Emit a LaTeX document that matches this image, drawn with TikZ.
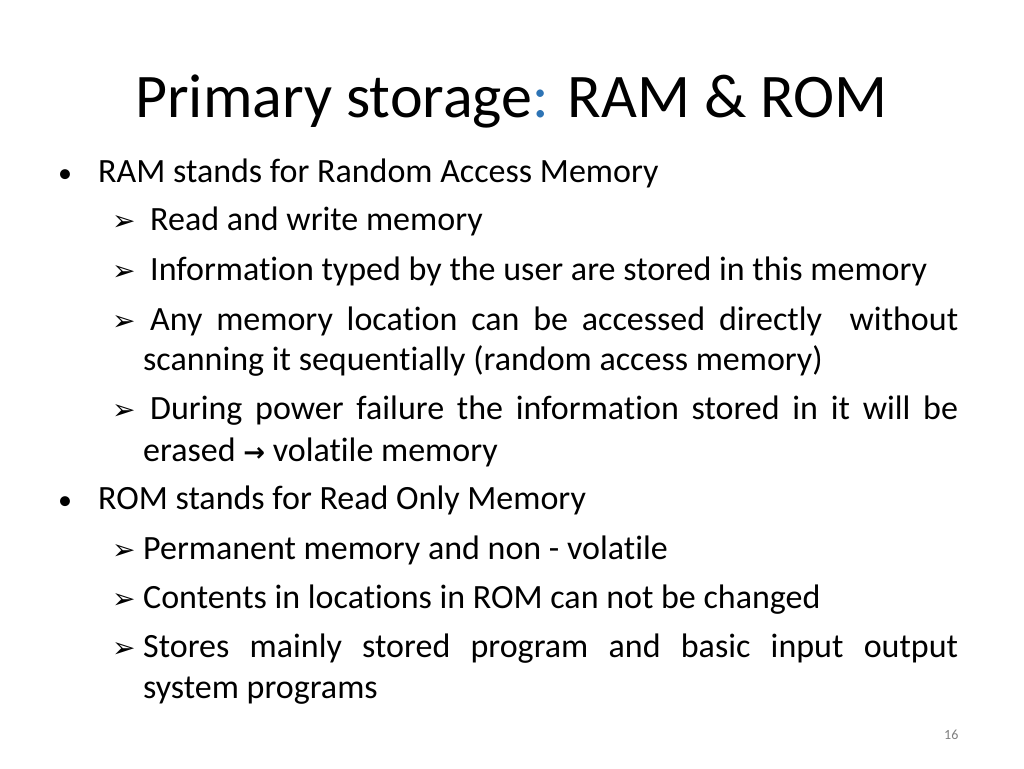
\documentclass[tikz,border=0pt]{standalone}
\usepackage{fontspec}
\setmainfont[RawFeature={-liga;-clig;-dlig}]{Carlito}
\newfontfamily\symfont{DejaVu Sans}
\begin{document}
\begin{tikzpicture}[x=1pt,y=-1pt,
  body/.style={anchor=base west,inner sep=0,font=\fontsize{34}{40}\selectfont},
  arr/.style={anchor=base west,inner sep=0,font=\symfont\bfseries\fontsize{28}{32}\selectfont}]
\useasboundingbox[fill=white] (0,0) rectangle (1024,768);
\node[anchor=base west,inner sep=0,font=\fontsize{62}{68}\selectfont] (title) at (135,117) {Primary storage\textcolor[HTML]{2E74B5}{:} RAM \& ROM};
\node[body,font=\fontsize{28}{32}\selectfont] (b1) at (58,182) {•};
\node[body] (t1) at (98,182) {RAM stands for Random Access Memory};
\node[arr] (a1) at (112,230) {➢};
\node[body] (t2) at (150,230) {Read and write memory};
\node[arr] (a2) at (112,280) {➢};
\node[body] (t3) at (150,280) {Information typed by the user are stored in this memory};
\node[arr] (a3) at (112,330) {➢};
\node[body] (t4) at (150,330) {\makebox[808pt][s]{Any memory location can be accessed directly \ without}};
\node[body] (t5) at (143,370) {scanning it sequentially (random access memory)};
\node[arr] (a4) at (112,419) {➢};
\node[body] (t6) at (150,419) {\makebox[808pt][s]{During power failure the information stored in it will be}};
\node[body] (t7) at (143,461) {erased {\symfont\bfseries\fontsize{26}{28}\selectfont →} volatile memory};
\node[body,font=\fontsize{28}{32}\selectfont] (b2) at (58,509) {•};
\node[body] (t8) at (98,509) {ROM stands for Read Only Memory};
\node[arr] (a5) at (112,559) {➢};
\node[body] (t9) at (143,559) {Permanent memory and non - volatile};
\node[arr] (a6) at (112,608) {➢};
\node[body] (t10) at (143,608) {Contents in locations in ROM can not be changed};
\node[arr] (a7) at (112,657) {➢};
\node[body] (t11) at (143,657) {\makebox[815pt][s]{Stores mainly stored program and basic input output}};
\node[body] (t12) at (143,698) {system programs};
\node[anchor=base west,inner sep=0,font=\fontsize{14}{16}\selectfont,text=gray] (pg) at (944,739) {16};
\end{tikzpicture}
\end{document}
